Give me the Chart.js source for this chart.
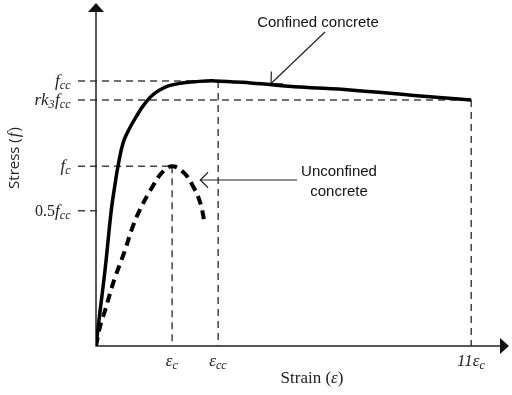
<!DOCTYPE html>
<html>
<head>
<meta charset="utf-8">
<script src="https://cdn.jsdelivr.net/npm/chart.js@4.4.0/dist/chart.umd.min.js"></script>
<style>
  body { margin: 0; background: #fff; }
  #wrap { width: 512px; height: 395px; }
</style>
</head>
<body>
<div id="wrap"><canvas id="curves" width="512" height="395"></canvas></div>
<script>
// strain in units of eps_c, stress in units of f_cc
const confinedStrain = [0, 0.04, 0.12, 0.20, 0.25, 0.29, 0.36, 0.45, 0.55, 0.61, 0.67, 0.74, 0.815, 0.95, 1.13, 1.30, 1.56, 2.03, 2.68, 3.34, 4.26, 4.93];
const confinedStress = [0, 0.10, 0.29, 0.51, 0.61, 0.68, 0.77, 0.826, 0.875, 0.902, 0.925, 0.946, 0.962, 0.981, 0.992, 0.997, 1.0, 0.992, 0.977, 0.966, 0.943, 0.928];

const unconfinedStrain = [0, 0.05, 0.12, 0.24, 0.38, 0.47, 0.57, 0.74, 0.87, 1.0, 1.15, 1.28, 1.37, 1.43];
const unconfinedStress = [0, 0.07, 0.135, 0.25, 0.36, 0.44, 0.51, 0.60, 0.655, 0.678, 0.655, 0.60, 0.54, 0.46];

// marked strains: eps_c, eps_cc, 11 eps_c  (drawn not to scale in the source)
const strainMarks = [1.0, 1.605, 4.93];
const strainMarkLabels = [
  [['ε'], ['c', 1]],
  [['ε'], ['cc', 1]],
  [['11ε'], ['c', 1]]
];
const strainMarkStress = [0.678, 1.0, 0.928];   // top of each vertical guide

// marked stresses: f_cc, r k3 f_cc, f_c, 0.5 f_cc
const stressMarks = [1.0, 0.928, 0.678, 0.51];
const stressMarkLabels = [
  [['f'], ['cc', 1]],
  [['rk'], ['3', 1], ['f'], ['cc', 1]],
  [['f'], ['c', 1]],
  [['0.5', 0, 1], ['f'], ['cc', 1]]
];
const stressMarkStrain = [1.605, 4.93, 1.0, 0];  // how far right each horizontal guide runs

const MATH = 'italic 17px "Liberation Serif"';
const MATH_SUB = 'italic 12px "Liberation Serif"';
const PLAIN = '16px "Liberation Serif"';

function partsWidth(ctx, parts) {
  let w = 0;
  parts.forEach(p => {
    ctx.font = p[1] ? MATH_SUB : (p[2] ? PLAIN : MATH);
    w += ctx.measureText(p[0]).width + (p[1] ? 0.5 : 0);
  });
  return w;
}

function drawParts(ctx, parts, x, y, align) {
  const w = partsWidth(ctx, parts);
  let cx = align === 'right' ? x - w : (align === 'center' ? x - w / 2 : x);
  ctx.textBaseline = 'alphabetic';
  ctx.textAlign = 'left';
  parts.forEach(p => {
    ctx.font = p[1] ? MATH_SUB : (p[2] ? PLAIN : MATH);
    ctx.fillText(p[0], cx, p[1] ? y + 3 : y);
    cx += ctx.measureText(p[0]).width + (p[1] ? 0.5 : 0);
  });
}

function arrowHead(ctx, tx, ty, fromX, fromY, len) {
  const a = Math.atan2(fromY - ty, fromX - tx);
  ctx.beginPath();
  ctx.moveTo(tx + len * Math.cos(a + Math.PI / 4), ty + len * Math.sin(a + Math.PI / 4));
  ctx.lineTo(tx, ty);
  ctx.lineTo(tx + len * Math.cos(a - Math.PI / 4), ty + len * Math.sin(a - Math.PI / 4));
  ctx.stroke();
}

const diagramPlugin = {
  id: 'diagram',
  beforeDatasetsDraw(chart) {
    const ctx = chart.ctx;
    const xs = chart.scales.x, ys = chart.scales.y;
    const area = chart.chartArea;
    ctx.save();
    ctx.strokeStyle = '#444';
    ctx.lineWidth = 1.5;
    ctx.setLineDash([7, 5]);
    // horizontal guides
    stressMarks.forEach((v, i) => {
      const py = ys.getPixelForValue(v);
      const endX = stressMarkStrain[i] > 0 ? xs.getPixelForValue(stressMarkStrain[i]) : area.left + 5;
      ctx.beginPath();
      ctx.moveTo(area.left - 18, py);
      ctx.lineTo(endX, py);
      ctx.stroke();
    });
    // vertical guides
    strainMarks.forEach((v, i) => {
      const px = xs.getPixelForValue(v);
      ctx.beginPath();
      ctx.moveTo(px, ys.getPixelForValue(strainMarkStress[i]));
      ctx.lineTo(px, area.bottom);
      ctx.stroke();
    });
    ctx.setLineDash([]);

    // axes with arrows
    ctx.strokeStyle = '#222';
    ctx.fillStyle = '#111';
    ctx.lineWidth = 1.5;
    ctx.beginPath();
    ctx.moveTo(area.left, area.top + 6);
    ctx.lineTo(area.left, area.bottom);
    ctx.lineTo(area.right - 6, area.bottom);
    ctx.stroke();
    ctx.beginPath();
    ctx.moveTo(area.left, area.top - 1);
    ctx.lineTo(area.left - 8, area.top + 8);
    ctx.lineTo(area.left + 8, area.top + 8);
    ctx.closePath();
    ctx.fill();
    ctx.beginPath();
    ctx.moveTo(area.right + 2, area.bottom);
    ctx.lineTo(area.right - 7, area.bottom - 8);
    ctx.lineTo(area.right - 7, area.bottom + 8);
    ctx.closePath();
    ctx.fill();

    // tick labels
    ctx.fillStyle = '#222';
    stressMarks.forEach((v, i) => {
      drawParts(ctx, stressMarkLabels[i], area.left - 25, ys.getPixelForValue(v) + 5, 'right');
    });
    strainMarks.forEach((v, i) => {
      drawParts(ctx, strainMarkLabels[i], xs.getPixelForValue(v), area.bottom + 20, 'center');
    });

    // axis titles
    ctx.textAlign = 'left';
    const s1 = 'Strain (', s2 = 'ε', s3 = ')';
    ctx.font = '17px "Liberation Serif"';
    const w1 = ctx.measureText(s1).width, w3 = ctx.measureText(s3).width;
    ctx.font = 'italic 17px "Liberation Serif"';
    const w2 = ctx.measureText(s2).width;
    let tx = 312 - (w1 + w2 + w3) / 2;
    ctx.font = '17px "Liberation Serif"';
    ctx.fillText(s1, tx, 383);
    ctx.font = 'italic 17px "Liberation Serif"';
    ctx.fillText(s2, tx + w1, 383);
    ctx.font = '17px "Liberation Serif"';
    ctx.fillText(s3, tx + w1 + w2, 383);

    ctx.save();
    ctx.translate(19, 158);
    ctx.rotate(-Math.PI / 2);
    ctx.font = '15px "Open Sans"';
    const a1 = 'Stress (', a3 = ')';
    const aw1 = ctx.measureText(a1).width, aw3 = ctx.measureText(a3).width;
    ctx.font = 'italic 17px "Liberation Serif"';
    const aw2 = ctx.measureText('f').width + 2;
    let ax = -(aw1 + aw2 + aw3) / 2;
    ctx.font = '15px "Open Sans"';
    ctx.fillText(a1, ax, 0);
    ctx.font = 'italic 17px "Liberation Serif"';
    ctx.fillText('f', ax + aw1 + 1, 0);
    ctx.font = '15px "Open Sans"';
    ctx.fillText(a3, ax + aw1 + aw2, 0);
    ctx.restore();

    // annotations
    ctx.fillStyle = '#111';
    ctx.font = '15px "Liberation Sans"';
    ctx.textAlign = 'center';
    ctx.fillText('Confined concrete', 318, 27);
    ctx.fillText('Unconfined', 339, 176);
    ctx.fillText('concrete', 339, 196);

    ctx.strokeStyle = '#222';
    ctx.lineWidth = 1.2;
    const cTipX = xs.getPixelForValue(2.3), cTipY = ys.getPixelForValue(0.99);
    ctx.beginPath();
    ctx.moveTo(325, 32);
    ctx.lineTo(cTipX, cTipY);
    ctx.stroke();
    arrowHead(ctx, cTipX, cTipY, 325, 32, 12);

    const uTipX = xs.getPixelForValue(1.37), uTipY = 180;
    ctx.beginPath();
    ctx.moveTo(297, uTipY);
    ctx.lineTo(uTipX, uTipY);
    ctx.stroke();
    arrowHead(ctx, uTipX, uTipY, 297, uTipY, 11);
    ctx.restore();
  }
};

const confined = confinedStrain.map((x, i) => ({ x, y: confinedStress[i] }));
const unconfined = unconfinedStrain.map((x, i) => ({ x, y: unconfinedStress[i] }));

new Chart(document.getElementById('curves').getContext('2d'), {
  type: 'scatter',
  data: {
    datasets: [{
      label: 'Confined concrete',
      data: confined,
      showLine: true,
      borderColor: '#000',
      borderWidth: 3.5,
      pointRadius: 0,
      tension: 0.4
    }, {
      label: 'Unconfined concrete',
      data: unconfined,
      showLine: true,
      borderColor: '#000',
      borderWidth: 4,
      borderDash: [9, 6],
      pointRadius: 0,
      tension: 0.4
    }]
  },
  options: {
    responsive: false,
    animation: false,
    layout: { padding: { left: 96, right: 5, top: 4, bottom: 49 } },
    plugins: {
      legend: { display: false },
      tooltip: { enabled: false }
    },
    scales: {
      x: { type: 'linear', min: 0, max: 5.4, display: false },
      y: { type: 'linear', min: 0, max: 1.29, display: false }
    }
  },
  plugins: [diagramPlugin]
});
</script>
</body>
</html>
